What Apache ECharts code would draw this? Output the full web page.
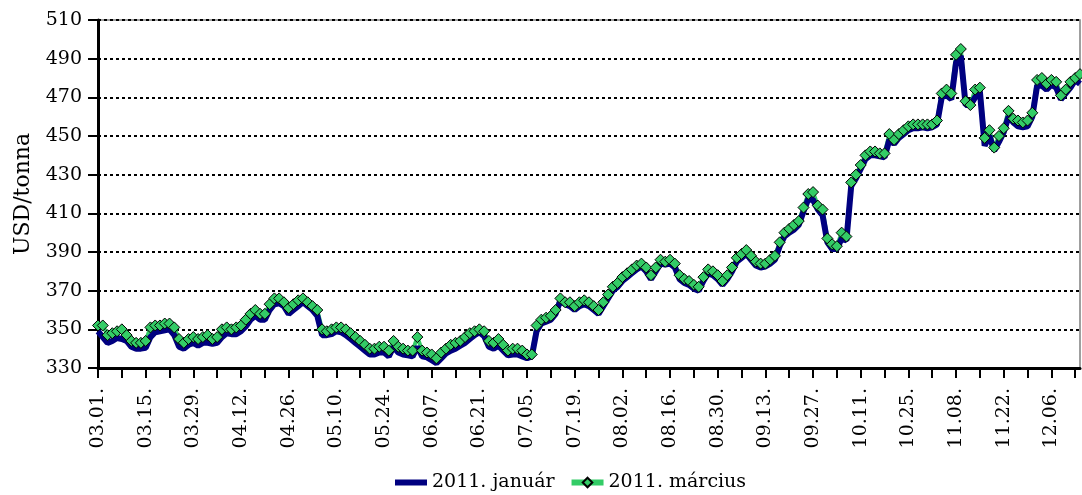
<!DOCTYPE html>
<html>
<head>
<meta charset="utf-8">
<script src="https://cdn.jsdelivr.net/npm/echarts@6/dist/echarts.min.js"></script>
<style>
  html, body { margin: 0; padding: 0; background: #fff; }
  #chart { width: 1082px; height: 495px; }
</style>
</head>
<body>
<div id="chart"></div>
<script>
// trading days, 2010.03.01 - 2010.12.14 (weekdays only)
var dates = []
var d = new Date(2010, 2, 1)
while (dates.length < 207) {
  var wd = d.getDay()
  if (wd !== 0 && wd !== 6) {
    var mm = ('0' + (d.getMonth() + 1)).slice(-2)
    var dd = ('0' + d.getDate()).slice(-2)
    dates.push(mm + '.' + dd + '.')
  }
  d.setDate(d.getDate() + 1)
}

var yTicks = { min: 330, max: 510, step: 20 }

// 2011. januári lejárat (USD/tonna)
var januar = [
  349, 346, 343, 344, 345.5, 345, 344, 341, 340, 340,
  340.5, 346, 348.5, 349, 349.5, 350, 347, 341, 340, 342,
  343, 341.5, 343, 343, 342.5, 343, 346, 348, 347.5, 347.5,
  349, 351.5, 355, 357, 355, 355, 360, 363, 363.5, 362,
  358, 360, 362, 364, 362, 360, 357, 347, 347, 347.5,
  349, 348.5, 347, 345, 343, 341, 339, 337, 337, 338,
  338, 336, 341, 338, 337, 336.5, 336, 341, 336, 335.5,
  334, 332.5, 335, 337.5, 339, 340, 341.5, 343, 345, 347,
  348.5, 346.5, 341, 340, 341.5, 339, 336.5, 337, 337, 336,
  335, 336, 349, 353, 354, 355, 358, 365, 363, 362,
  360, 362, 363, 362, 360, 358, 362, 366, 370, 372,
  375, 377, 379, 381, 382.5, 380, 376, 380, 384, 383.5,
  384, 382, 376, 374, 373, 371, 370, 375, 379, 378,
  376, 373, 376, 380, 385, 387, 389, 386, 383, 382,
  382.5, 384, 386, 393, 398, 400, 401.5, 404, 411, 417.5,
  417, 412, 409, 395, 391.5, 391.5, 397, 396, 424, 428,
  433, 438, 440, 440, 439.5, 439, 448, 446, 449, 451,
  453, 454, 454, 454.5, 454, 454.5, 456, 470, 471, 469,
  488, 491.5, 466, 466, 470, 473, 445, 450, 442.5, 447,
  452, 460, 457, 455, 454.5, 455, 460, 476, 476, 474,
  476.5, 475, 469, 472, 475, 479, 477
]

// 2011. márciusi lejárat (USD/tonna)
var marcius = [
  352, 352, 347, 348, 349, 350, 347, 344, 343, 343,
  344, 351, 352, 352, 353, 353, 351, 345, 343, 345,
  346, 345, 346, 347, 345, 346, 350, 351, 350, 351,
  352, 355, 358, 360, 358, 358, 363, 366, 366, 364,
  361, 363, 365, 366, 364, 362, 360, 350, 349, 350,
  351, 351, 350, 348, 346, 344, 342, 340, 340, 341,
  341, 339, 344, 341, 340, 339, 339, 346, 339, 338,
  337, 335, 338, 340, 342, 343, 344, 346, 348, 349,
  350, 349, 344, 343, 345, 342, 339, 340, 340, 339,
  337, 337, 352, 355, 356, 357, 360, 366, 364, 364,
  362, 364, 365, 364, 362, 360, 364, 368, 372, 374,
  377, 379, 381, 383, 384, 382, 378, 382, 386, 385,
  386, 384, 378, 376, 375, 373, 372, 377, 381, 380,
  378, 375, 378, 382, 387, 389, 391, 388, 385, 384,
  384, 386, 388, 395, 400, 402, 404, 406, 413, 420,
  421, 414, 412, 397, 394, 393, 400, 398, 426, 430,
  435, 440, 442, 442, 441, 441, 451, 448, 451, 453,
  455, 456, 456, 456, 456, 456, 458, 472, 474, 472,
  492, 495, 468, 466, 474, 475, 449, 453, 444, 450,
  454, 463, 459, 458, 457, 458, 462, 479, 480, 477,
  479, 478, 471, 474, 478, 480, 482
]

var font = 'DejaVu Serif'
var navy = '#000080'
var green = '#33cc66'
var chart = echarts.init(document.getElementById('chart'))

chart.setOption({
  animation: false,
  textStyle: { fontFamily: font, color: '#000' },
  grid: {
    left: 98,
    right: 2,
    top: 20,
    bottom: 127,
    show: true,
    borderColor: '#808080',
    borderWidth: 1.5
  },
  legend: {
    data: [
      {
        name: '2011. január',
        // thick bar, centred in the 32x12 icon box
        icon: 'path://M0,0 M32,12 M0,3 L32,3 L32,9 L0,9 Z',
        itemStyle: { color: navy, borderWidth: 0 }
      },
      {
        name: '2011. március',
        lineStyle: { width: 6, color: green }
      }
    ],
    top: 468,
    left: 390,
    itemWidth: 32,
    itemHeight: 12,
    itemGap: 14,
    textStyle: { fontFamily: font, fontSize: 19, color: '#000' }
  },
  xAxis: {
    type: 'category',
    data: dates,
    boundaryGap: false,
    axisLine: { lineStyle: { color: '#000', width: 3 } },
    axisTick: { interval: 4, length: 10, lineStyle: { color: '#000', width: 2 } },
    axisLabel: {
      interval: 9,
      rotate: 90,
      margin: 20,
      fontFamily: font,
      fontSize: 19,
      color: '#000'
    },
    splitLine: { show: false }
  },
  yAxis: {
    type: 'value',
    min: yTicks.min,
    max: yTicks.max,
    interval: yTicks.step,
    name: 'USD/tonna',
    nameLocation: 'middle',
    nameGap: 64,
    nameTextStyle: { fontFamily: font, fontSize: 22, color: '#000' },
    axisLine: { show: true, lineStyle: { color: '#000', width: 3 } },
    axisTick: { show: true, length: 10, lineStyle: { color: '#000', width: 2 } },
    axisLabel: { margin: 16, fontFamily: font, fontSize: 19, color: '#000' },
    splitLine: { lineStyle: { color: '#000', width: 2, type: [3, 3] } }
  },
  series: [
    {
      name: '2011. március',
      type: 'line',
      data: marcius,
      symbol: 'diamond',
      symbolSize: 11,
      showAllSymbol: true,
      lineStyle: { color: green, width: 4 },
      itemStyle: { color: green, borderColor: '#000', borderWidth: 1 }
    },
    {
      name: '2011. január',
      type: 'line',
      data: januar,
      symbol: 'none',
      lineStyle: { color: navy, width: 6 },
      itemStyle: { color: navy }
    }
  ]
})
</script>
</body>
</html>
